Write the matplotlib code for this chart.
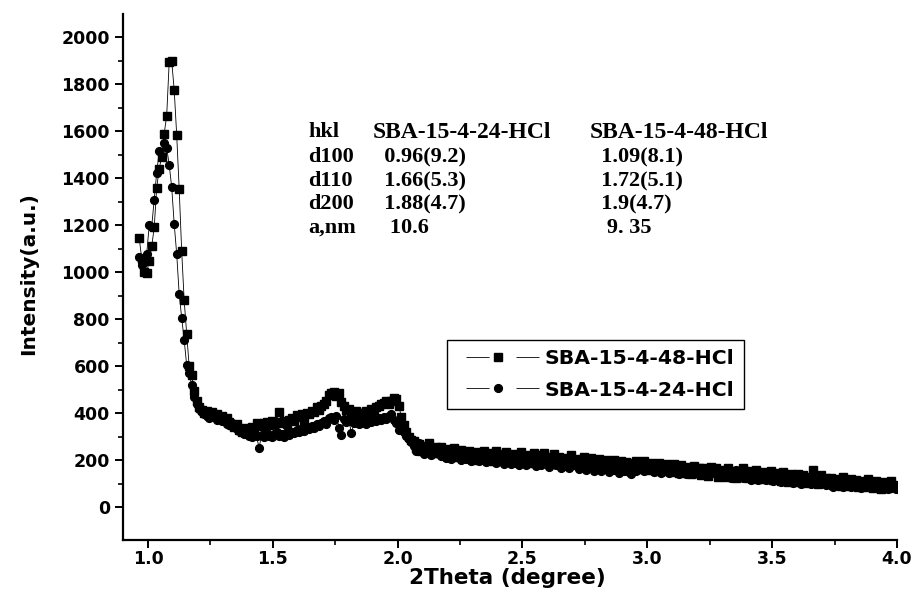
import numpy as np
import matplotlib
matplotlib.use("Agg")
import matplotlib.pyplot as plt
from matplotlib.lines import Line2D
from matplotlib.legend_handler import HandlerTuple

plt.rcParams['lines.scale_dashes'] = False

# 2Theta sampling grid (degree)
two_theta = np.round(0.965 + 0.01 * np.arange(304), 3)

# SBA-15-4-48-HCl (squares)
sba48 = [
    1145, 1058, 1000, 998, 1049, 1110, 1191, 1360, 1441, 1492,
    1590, 1667, 1895, 1900, 1778, 1586, 1356, 1092, 880, 738,
    600, 562, 495, 452, 428, 415, 402, 410, 396, 405,
    392, 398, 385, 390, 372, 380, 362, 350, 342, 355,
    330, 322, 338, 318, 326, 342, 335, 360, 352, 345,
    358, 362, 348, 365, 355, 362, 405, 360, 368, 352,
    372, 380, 365, 392, 385, 398, 372, 402, 395, 410,
    405, 425, 415, 432, 438, 452, 478, 485, 490, 472,
    486, 448, 430, 412, 420, 405, 398, 408, 395, 402,
    402, 410, 405, 418, 412, 425, 430, 438, 445, 450,
    440, 452, 465, 460, 430, 384, 350, 318, 298, 285,
    282, 250, 270, 240, 262, 235, 275, 248, 230, 258,
    232, 255, 220, 248, 238, 215, 250, 228, 212, 245,
    225, 208, 240, 218, 200, 235, 222, 205, 238, 215,
    198, 232, 215, 240, 205, 225, 195, 235, 218, 200,
    228, 195, 215, 235, 200, 222, 190, 215, 232, 198,
    188, 222, 230, 198, 212, 185, 225, 195, 215, 182,
    210, 195, 178, 220, 190, 205, 175, 198, 215, 182,
    172, 208, 190, 170, 205, 185, 168, 202, 188, 170,
    200, 178, 165, 198, 180, 192, 160, 188, 172, 198,
    182, 162, 195, 175, 158, 190, 170, 155, 188, 168,
    152, 185, 165, 148, 182, 162, 145, 178, 158, 172,
    160, 140, 175, 152, 168, 138, 165, 150, 132, 170,
    148, 165, 130, 158, 145, 128, 168, 138, 155, 125,
    152, 135, 165, 140, 122, 155, 132, 160, 120, 145,
    150, 118, 138, 155, 115, 145, 128, 112, 148, 125,
    108, 142, 122, 105, 140, 118, 135, 102, 130, 115,
    158, 110, 100, 135, 108, 125, 98, 122, 95, 118,
    112, 92, 128, 102, 88, 120, 95, 115, 85, 110,
    98, 85, 118, 92, 80, 112, 88, 78, 108, 90,
    82, 110, 95, 88,
]

# SBA-15-4-24-HCl (circles)
sba24 = [
    1065, 1030, 1045, 1080, 1200, 1195, 1310, 1425, 1515, 1495,
    1550, 1530, 1458, 1363, 1207, 1079, 908, 806, 712, 605,
    570, 520, 470, 440, 418, 405, 395, 388, 380, 392,
    385, 372, 378, 365, 370, 355, 348, 360, 340, 332,
    325, 318, 310, 320, 305, 298, 312, 302, 252, 308,
    300, 315, 305, 298, 310, 318, 305, 312, 300, 320,
    308, 322, 315, 330, 318, 335, 325, 340, 332, 345,
    338, 352, 345, 360, 368, 355, 378, 385, 372, 390,
    337, 307, 375, 362, 368, 315, 358, 365, 352, 360,
    368, 355, 372, 362, 375, 365, 380, 370, 385, 375,
    390, 395, 372, 358, 328, 345, 320, 305, 290, 278,
    262, 238, 272, 245, 228, 262, 240, 222, 255, 232,
    248, 218, 242, 210, 235, 205, 240, 215, 228, 200,
    230, 205, 222, 198, 215, 232, 195, 212, 225, 192,
    218, 195, 228, 190, 210, 222, 185, 208, 220, 182,
    212, 190, 178, 215, 195, 180, 210, 188, 218, 175,
    202, 180, 210, 192, 172, 205, 185, 178, 200, 168,
    195, 175, 165, 200, 178, 188, 162, 195, 180, 158,
    188, 168, 155, 185, 165, 152, 182, 162, 148, 178,
    158, 175, 145, 170, 155, 178, 150, 140, 172, 152,
    183, 163, 155, 180, 160, 175, 150, 170, 183, 147,
    170, 155, 147, 177, 153, 165, 143, 163, 173, 140,
    160, 170, 140, 155, 167, 135, 160, 147, 133, 163,
    145, 160, 137, 130, 155, 133, 150, 125, 143, 157,
    130, 150, 123, 140, 155, 117, 137, 127, 115, 145,
    133, 115, 143, 125, 110, 140, 123, 107, 135, 117,
    110, 130, 103, 123, 137, 100, 115, 127, 107, 97,
    125, 105, 97, 120, 103, 93, 115, 100, 87, 113,
    95, 110, 87, 105, 97, 85, 107, 93, 100, 83,
    97, 105, 85, 100, 91, 80, 103, 87, 83, 95,
    79, 93, 85, 77,
]

series_labels = ["SBA-15-4-48-HCl", "SBA-15-4-24-HCl"]

table_rows = [
    ["hkl", "SBA-15-4-24-HCl", "SBA-15-4-48-HCl"],
    ["d100", "  0.96(9.2)", "  1.09(8.1)"],
    ["d110", "  1.66(5.3)", "  1.72(5.1)"],
    ["d200", "  1.88(4.7)", "  1.9(4.7)"],
    ["a,nm", "   10.6", "   9. 35"],
]

xticks = [1.0, 1.5, 2.0, 2.5, 3.0, 3.5, 4.0]
yticks = [0, 200, 400, 600, 800, 1000, 1200, 1400, 1600, 1800, 2000]

fig = plt.figure(figsize=(9.14, 6.03), dpi=100)
ax = fig.add_axes([123 / 914, 1 - 540 / 603, (897 - 123) / 914, (540 - 14) / 603])

sans = ['DejaVu Sans']
serif = ['Liberation Serif', 'DejaVu Serif']

ax.plot(two_theta, sba48, color='black', lw=0.6, marker='s', ms=5.6,
        mfc='black', mec='black', zorder=3)
ax.plot(two_theta, sba24, color='black', lw=0.6, marker='o', ms=5.6,
        mfc='black', mec='black', zorder=2)

ax.set_xlim(0.9, 4.0)
ax.set_ylim(-140, 2100)
ax.set_xticks(xticks)
ax.set_xticklabels([f"{v:.1f}" for v in xticks])
ax.set_yticks(yticks)
ax.set_xticks(np.arange(1.25, 4.0, 0.5), minor=True)
ax.set_yticks(np.arange(100, 2100, 200), minor=True)

for s in ['top', 'right']:
    ax.spines[s].set_visible(False)
for s in ['left', 'bottom']:
    ax.spines[s].set_linewidth(1.6)

ax.tick_params(which='major', direction='out', length=5.5, width=1.4, labelsize=12.5)
ax.tick_params(axis='x', which='major', pad=1.5)
ax.tick_params(axis='y', which='major', pad=4)
ax.tick_params(which='minor', direction='out', length=3.5, width=1.2)
for lab in ax.get_xticklabels() + ax.get_yticklabels():
    lab.set_fontweight('bold')
    lab.set_family(sans)

ax.set_xlabel("2Theta (degree)", fontsize=15.5, fontweight='bold', family=sans)
ax.set_ylabel("Intensity(a.u.)", fontsize=14.5, fontweight='bold', family=sans)
ax.xaxis.label.set_va('center')
ax.yaxis.label.set_va('center')
ax.xaxis.set_label_coords(0.497, -0.073)
ax.yaxis.set_label_coords(-0.122, 0.506)

# legend with a line broken around the marker (leading gap via dash offset)
h_line = Line2D([], [], color='black', lw=0.6,
                linestyle=(95.4, (16.6, 19.4, 16.6, 50)))
h_sq = Line2D([], [], color='black', marker='s', ls='none', ms=5.6)
h_ci = Line2D([], [], color='black', marker='o', ls='none', ms=5.6)
leg = ax.legend([(h_line, h_sq), (h_line, h_ci)], series_labels,
                handler_map={tuple: HandlerTuple(ndivide=1)},
                loc='upper left', bbox_to_anchor=(0.4186, 0.380),
                borderaxespad=0,
                prop={'family': sans, 'weight': 'bold', 'size': 14.7},
                handlelength=4.05, handletextpad=0.3, borderpad=0.45,
                labelspacing=0.6, frameon=True, fancybox=False,
                edgecolor='black', framealpha=1)
leg.get_frame().set_linewidth(1.0)

# table of d-spacings
col_x = [308, 373, 590]
row_y = [132, 157, 181, 204, 228]
for r, row in enumerate(table_rows):
    for c, txt in enumerate(row):
        size = 17 if (r == 0 and c > 0) else 16
        fig.text(col_x[c] / 914, 1 - row_y[r] / 603, txt, fontsize=size,
                 fontweight='bold', family=serif, ha='left', va='center')

fig.savefig("out.png", dpi=100, facecolor='white')
